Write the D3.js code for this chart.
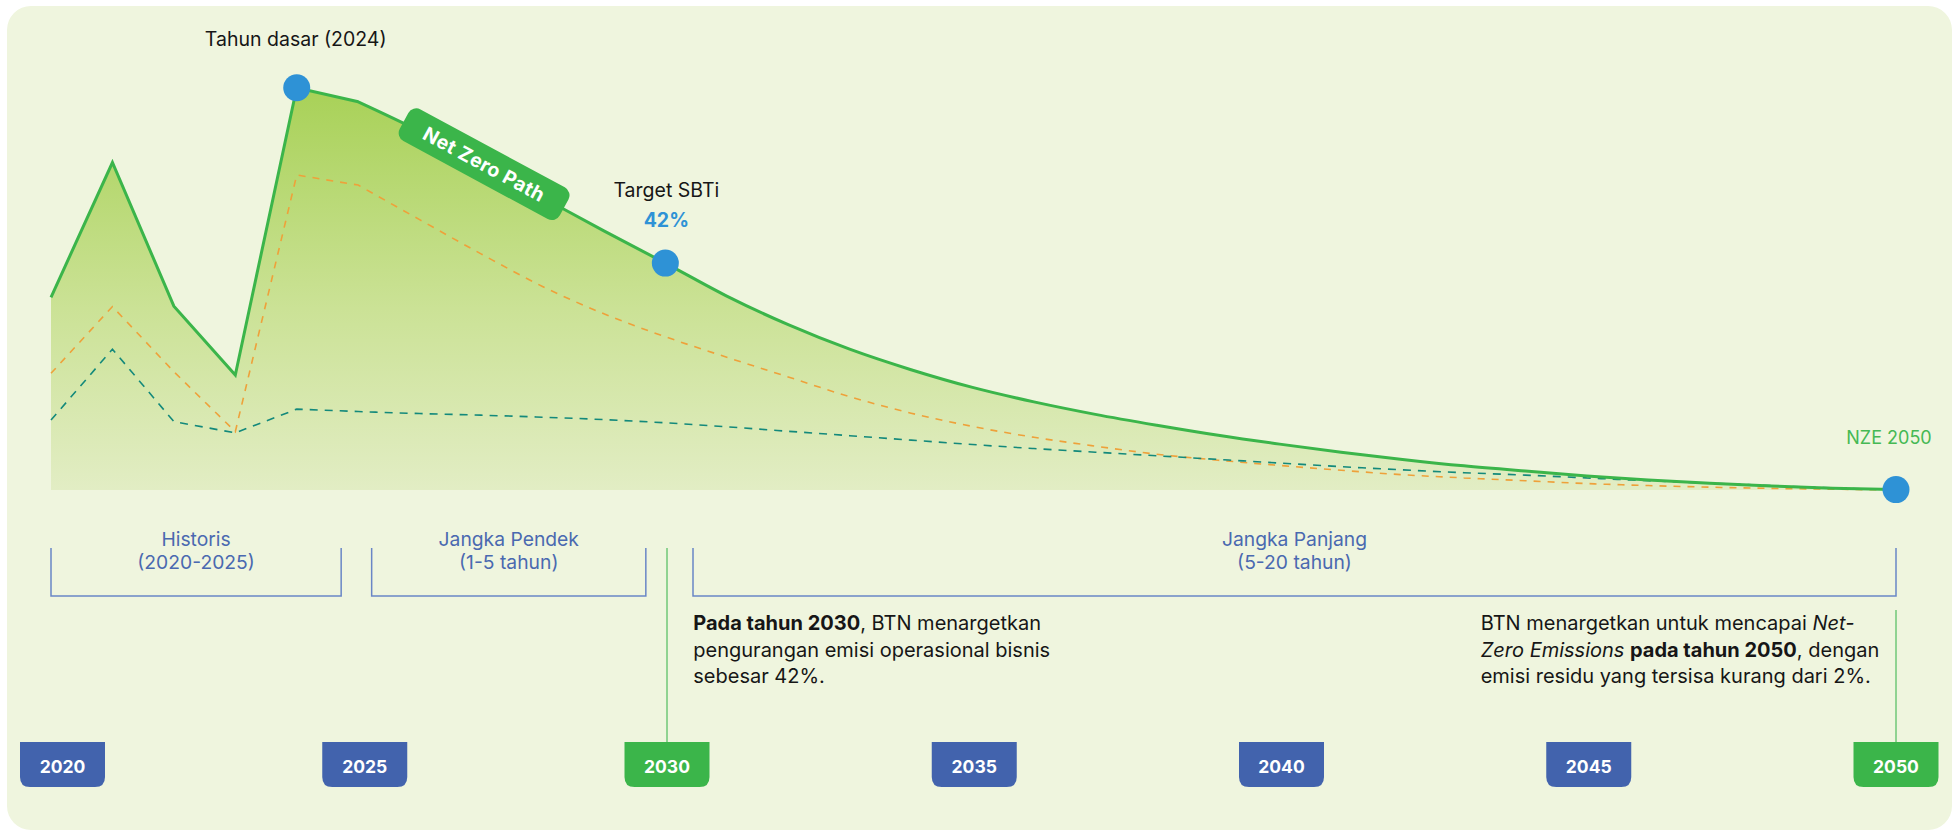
<!DOCTYPE html>
<html>
<head>
<meta charset="utf-8">
<script src="https://cdn.jsdelivr.net/npm/d3@7"></script>
<style>
  html, body { margin: 0; padding: 0; background: #ffffff; }
  svg { display: block; font-family: Inter, "Open Sans", sans-serif; }
</style>
</head>
<body>
<svg id="chart" width="1959" height="835"></svg>
<script>
// ---------------- DATA ----------------
const years = [2020, 2021, 2022, 2023, 2024, 2025, 2026, 2027, 2028, 2029, 2030,
               2031, 2032, 2033, 2034, 2035, 2036, 2037, 2038, 2039, 2040,
               2041, 2042, 2043, 2044, 2045, 2046, 2047, 2048, 2049, 2050];
// Net Zero Path (index, base year 2024 = 100)
const netZeroPath = [47.9, 81.4, 45.7, 28.6, 100, 96.5, 89.2, 80.9, 72.7, 64.4, 56.4,
                     48.2, 41.1, 35.0, 29.9, 25.5, 21.9, 18.8, 16.1, 13.6, 11.4,
                     9.4, 7.6, 6.0, 4.7, 3.5, 2.5, 1.7, 1.0, 0.45, 0.1];
// dashed orange pathway
const pathwayOrange = [29.0, 45.6, 29.4, 14.5, 78.3, 75.8, 67.2, 58.7, 50.6, 43.8, 38.1,
                       33.0, 28.1, 23.2, 19.1, 15.8, 13.1, 10.9, 8.9, 7.4, 6.1,
                       4.9, 3.8, 3.0, 2.3, 1.6, 1.1, 0.7, 0.4, 0.2, 0.0];
// dashed teal pathway
const pathwayTeal = [17.4, 35.0, 17.0, 14.2, 20.1, 19.5, 19.0, 18.6, 18.1, 17.5, 16.7,
                     15.7, 14.6, 13.5, 12.4, 11.3, 10.3, 9.4, 8.5, 7.6, 6.7,
                     5.8, 5.0, 4.3, 3.7, 3.0, 2.3, 1.7, 1.1, 0.5, 0.1];

const milestoneYears = [2024, 2030, 2050];
const milestoneLabels = ["Tahun dasar (2024)", "Target SBTi", "NZE 2050"];
const targetValueLabel = "42%";
const pathLabel = "Net Zero Path";

const badgeYears = [2020, 2025, 2030, 2035, 2040, 2045, 2050];
const highlightBadgeYears = [2030, 2050];

const phases = [
  { from: 2020, to: 2025, line1: "Historis", line2: "(2020-2025)" },
  { from: 2025, to: 2030, line1: "Jangka Pendek", line2: "(1-5 tahun)" },
  { from: 2030, to: 2050, line1: "Jangka Panjang", line2: "(5-20 tahun)" }
];
const historyEndYear = 2025; // straight segments up to here, smooth projection after

// ---------------- LAYOUT ----------------
const W = 1959, H = 835;
const svg = d3.select("#chart");
const COL = {
  card: "#eff5de", green: "#3bb54a", greenText: "#45b953", blue: "#2e92d6",
  badgeBlue: "#4263ad", bracket: "#6a86c6", bracketText: "#4a69b0",
  orange: "#eea13a", teal: "#13897b", text: "#161616"
};

svg.append("rect").attr("x", 7).attr("y", 6).attr("width", W - 14).attr("height", H - 11)
  .attr("rx", 24).attr("fill", COL.card);

const x = d3.scaleLinear().domain([2020, 2050]).range([51, 1894]);
const y = d3.scaleLinear().domain([0, 100]).range([490, 87.7]);
const xb = d3.scaleLinear().domain([2020, 2030, 2050]).range([62.5, 667, 1896]);

const defs = svg.append("defs");
const grad = defs.append("linearGradient").attr("id", "areaGrad")
  .attr("gradientUnits", "userSpaceOnUse")
  .attr("x1", 0).attr("x2", 0).attr("y1", y(100)).attr("y2", y(0));
grad.append("stop").attr("offset", "0%").attr("stop-color", "#a8d157");
grad.append("stop").attr("offset", "55%").attr("stop-color", "#cbe296");
grad.append("stop").attr("offset", "100%").attr("stop-color", "#e2edc4");

const mk = arr => years.map((yr, i) => ({ yr, v: arr[i] }));
const dMain = mk(netZeroPath), dOr = mk(pathwayOrange), dTe = mk(pathwayTeal);

// straight history segments + smooth projection, joined in one continuous path
const lineLin = d3.line().x(d => x(d.yr)).y(d => y(d.v)).curve(d3.curveLinear);
const lineSmooth = d3.line().x(d => x(d.yr)).y(d => y(d.v)).curve(d3.curveMonotoneX);
function pathD(data) {
  const a = lineLin(data.filter(d => d.yr <= historyEndYear));
  const b = lineSmooth(data.filter(d => d.yr >= historyEndYear));
  return a + b.replace(/^M[^A-Za-z]*/, "");
}

svg.append("path")
  .attr("d", pathD(dMain) + `L${x(2050)},${y(0)}L${x(2020)},${y(0)}Z`)
  .attr("fill", "url(#areaGrad)");

svg.append("path").attr("d", pathD(dOr)).attr("fill", "none")
  .attr("stroke", COL.orange).attr("stroke-width", 1.6).attr("stroke-dasharray", "7,7");
svg.append("path").attr("d", pathD(dTe)).attr("fill", "none")
  .attr("stroke", COL.teal).attr("stroke-width", 1.6).attr("stroke-dasharray", "8,7");

svg.append("path").attr("d", pathD(dMain)).attr("fill", "none")
  .attr("stroke", COL.green).attr("stroke-width", 3).attr("stroke-linejoin", "miter");

// Net Zero Path label
(function () {
  const i0 = years.indexOf(2026), i1 = years.indexOf(2028);
  const ang = Math.atan2(y(netZeroPath[i1]) - y(netZeroPath[i0]), x(2028) - x(2026)) * 180 / Math.PI;
  const yr = 2027.05;
  const vi = d3.scaleLinear().domain([2027, 2028])
    .range([netZeroPath[years.indexOf(2027)], netZeroPath[years.indexOf(2028)]]);
  const cy = y(vi(yr)) - 2;
  const g = svg.append("g").attr("transform", `translate(${x(yr)},${cy}) rotate(${ang})`);
  g.append("rect").attr("x", -91).attr("y", -18).attr("width", 182).attr("height", 36)
    .attr("rx", 9).attr("fill", COL.green);
  g.append("text").attr("text-anchor", "middle").attr("dy", "0.36em")
    .attr("fill", "#fff").attr("font-weight", 700).attr("font-size", 19.5)
    .attr("letter-spacing", 0.4).text(pathLabel);
})();

// milestone dots and labels
milestoneYears.forEach((yr, i) => {
  const v = netZeroPath[years.indexOf(yr)];
  const cx = yr === 2050 ? xb(yr) : x(yr);
  const cy = y(v);
  svg.append("circle").attr("cx", cx).attr("cy", cy).attr("r", 13.5).attr("fill", COL.blue);
  if (yr === 2024) {
    svg.append("text").attr("x", cx - 1).attr("y", cy - 42).attr("text-anchor", "middle")
      .attr("font-size", 19.5).attr("fill", COL.text).text(milestoneLabels[i]);
  } else if (yr === 2030) {
    svg.append("text").attr("x", cx + 1).attr("y", cy - 66).attr("text-anchor", "middle")
      .attr("font-size", 19.5).attr("fill", COL.text).text(milestoneLabels[i]);
    svg.append("text").attr("x", cx + 1).attr("y", cy - 36).attr("text-anchor", "middle")
      .attr("font-size", 19.5).attr("font-weight", 700).attr("fill", COL.blue).text(targetValueLabel);
  } else {
    svg.append("text").attr("x", cx - 7).attr("y", cy - 46).attr("text-anchor", "middle")
      .attr("font-size", 18).attr("fill", COL.greenText).text(milestoneLabels[i]);
  }
});

// phase brackets
const bTop = 548, bBot = 596;
const phaseEdges = [
  [x(2020), x(2025) - 17],
  [x(2025) + 13.5, x(2030) - 19.5],
  [xb(2030) + 26, xb(2050)]
];
phases.forEach((p, i) => {
  const [l, r] = phaseEdges[i];
  svg.append("path").attr("d", `M${l},${bTop}V${bBot}H${r}V${bTop}`)
    .attr("fill", "none").attr("stroke", COL.bracket).attr("stroke-width", 1.5);
  const t = svg.append("text").attr("text-anchor", "middle").attr("font-size", 19.3)
    .attr("fill", COL.bracketText);
  t.append("tspan").attr("x", (l + r) / 2).attr("y", 546).text(p.line1);
  t.append("tspan").attr("x", (l + r) / 2).attr("y", 568.5).text(p.line2);
});

// green connector lines
svg.append("line").attr("x1", xb(2030)).attr("x2", xb(2030)).attr("y1", bTop).attr("y2", 742)
  .attr("stroke", "#5cc068").attr("stroke-width", 1.3);
svg.append("line").attr("x1", xb(2050)).attr("x2", xb(2050)).attr("y1", 610).attr("y2", 742)
  .attr("stroke", "#5cc068").attr("stroke-width", 1.3);

// description texts
function para(x0, lines) {
  lines.forEach((segs, li) => {
    const t = svg.append("text").attr("x", x0).attr("y", 630 + li * 26.7)
      .attr("font-size", 20).attr("fill", COL.text);
    segs.forEach(s => {
      const ts = t.append("tspan").text(s.t);
      if (s.b) ts.attr("font-weight", 700);
      if (s.i) ts.attr("font-style", "italic");
    });
  });
}
para(693.3, [
  [{ t: "Pada tahun 2030", b: true }, { t: ", BTN menargetkan" }],
  [{ t: "pengurangan emisi operasional bisnis" }],
  [{ t: "sebesar 42%." }]
]);
para(1480.7, [
  [{ t: "BTN menargetkan untuk mencapai " }, { t: "Net-", i: true }],
  [{ t: "Zero Emissions", i: true }, { t: " " }, { t: "pada tahun 2050", b: true }, { t: ", dengan" }],
  [{ t: "emisi residu yang tersisa kurang dari 2%." }]
]);

// year badges
const bw = 85, bh = 45, by = 742, br = 10;
badgeYears.forEach(yr => {
  const cx = xb(yr), l = cx - bw / 2, r = cx + bw / 2;
  const hl = highlightBadgeYears.includes(yr);
  svg.append("path")
    .attr("d", `M${l},${by}H${r}V${by + bh - br}Q${r},${by + bh} ${r - br},${by + bh}H${l + br}Q${l},${by + bh} ${l},${by + bh - br}Z`)
    .attr("fill", hl ? COL.green : COL.badgeBlue);
  svg.append("text").attr("x", cx).attr("y", 772.5).attr("text-anchor", "middle")
    .attr("font-size", 17.5).attr("font-weight", 700).attr("fill", "#fff").text(yr);
});
</script>
</body>
</html>
